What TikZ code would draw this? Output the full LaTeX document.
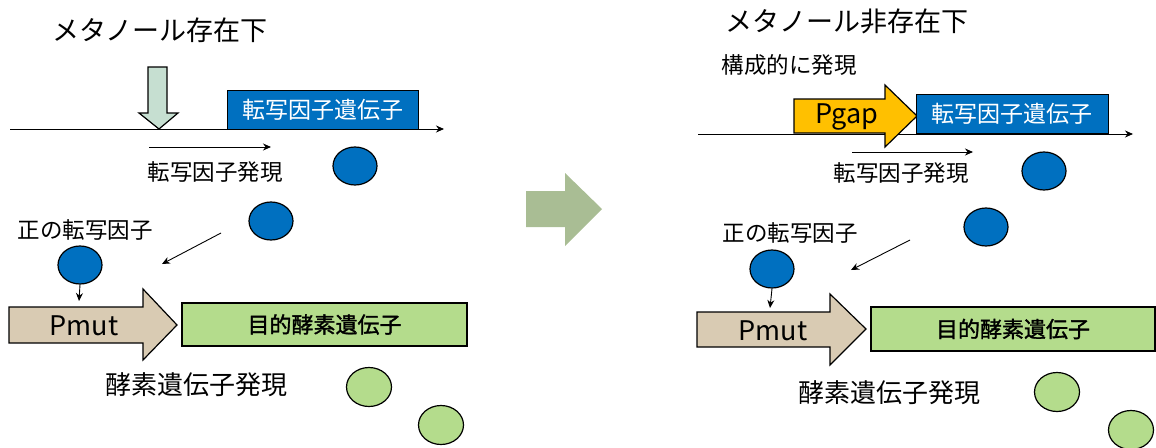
\documentclass[tikz,border=0pt]{standalone}
\usepackage{fontspec}
\setmainfont{Noto Sans CJK JP}
\newfontfamily\semibold[FakeBold=1.5]{Noto Sans CJK JP}
\usetikzlibrary{arrows.meta,shapes.geometric}
\definecolor{tfblue}{HTML}{0070C0}
\definecolor{enzgreen}{HTML}{B4DC8C}
\definecolor{tan}{HTML}{D9CBB3}
\definecolor{mint}{HTML}{C6DFD1}
\definecolor{midgreen}{HTML}{A9BD94}
\definecolor{gold}{HTML}{FFC000}
\tikzset{
  title/.style={inner sep=0pt, font=\fontsize{27}{27}\selectfont},
  lbl/.style={inner sep=0pt, font=\fontsize{22.5}{22.5}\selectfont},
  biglbl/.style={inner sep=0pt, font=\fontsize{26}{26}\selectfont},
  promtext/.style={inner sep=0pt, font=\fontsize{27}{27}\selectfont},
  tfgene/.style={rectangle, draw=black, line width=1pt, fill=tfblue, text=white, inner sep=0pt, font=\fontsize{23}{23}\selectfont},
  enzgene/.style={rectangle, draw=black, line width=1.2pt, fill=enzgreen, inner sep=0pt, font=\semibold\fontsize{22}{22}\selectfont},
  bluedot/.style={ellipse, draw=black, line width=1.2pt, fill=tfblue, minimum width=44pt, minimum height=38pt, inner sep=0pt},
  greendot/.style={ellipse, draw=black, line width=1.2pt, fill=enzgreen, minimum width=45pt, minimum height=39pt, inner sep=0pt},
  conn/.style={line width=0.9pt, -{Stealth[length=8pt,width=7pt]}},
  blockarrow/.style={draw=black, line width=1.2pt, line join=miter}
}
\begin{document}
\begin{tikzpicture}[x=1pt,y=-1pt]
\useasboundingbox (0,0) rectangle (1156,447);
\clip (0,0) rectangle (1156,447);

% ---------------- left panel ----------------
\node[title] (tL) at (160,30) {メタノール存在下};

\coordinate (blL0) at (10,129);
\coordinate (blL1) at (444,129);
\draw[conn] (blL0) -- (blL1);

\draw[blockarrow, fill=mint] (148,67) -- (167,67) -- (167,113) -- (178,113) -- (159,129) -- (139,113) -- (148,113) -- cycle;

\node[tfgene, minimum width=191pt, minimum height=39pt] (tfL) at (322.5,109.5) {転写因子遺伝子};

\coordinate (saL0) at (149,147);
\coordinate (saL1) at (271,147);
\draw[conn] (saL0) -- (saL1);
\node[lbl] (exL) at (215,172) {転写因子発現};

\node[bluedot] (b1L) at (355,166) {};
\node[bluedot] (b2L) at (271,221) {};
\node[lbl] (posL) at (85,230) {正の転写因子};
\node[bluedot] (b3L) at (80,265) {};

\coordinate (dnL) at (79,301);
\draw[conn] (b3L.south) -- (dnL);

\coordinate (dgL0) at (221,233);
\coordinate (dgL1) at (162,264);
\draw[conn] (dgL0) -- (dgL1);

\draw[blockarrow, fill=tan] (9,307) -- (143,307) -- (143,289) -- (177,325) -- (143,360) -- (143,343) -- (9,343) -- cycle;
\node[promtext] (pmL) at (84,326) {Pmut};

\node[enzgene, minimum width=285pt, minimum height=43pt] (egL) at (324.5,324.5) {目的酵素遺伝子};

\node[biglbl] (eexL) at (196,385) {酵素遺伝子発現};
\node[greendot] (g1L) at (369,387) {};
\node[greendot] (g2L) at (441,425) {};

% ---------------- middle arrow ----------------
\fill[midgreen] (526,191) -- (565,191) -- (565,173) -- (602,209) -- (565,246) -- (565,227) -- (526,227) -- cycle;

% ---------------- right panel ----------------
\node[title] (tR) at (847,21) {メタノール非存在下};
\node[lbl] (conR) at (789,65) {構成的に発現};

\coordinate (blR0) at (698,134);
\coordinate (blR1) at (1133,134);
\draw[conn] (blR0) -- (blR1);

\draw[blockarrow, fill=gold] (794,99) -- (885,99) -- (885,85) -- (917,116) -- (885,147) -- (885,133) -- (794,133) -- cycle;
\node[promtext] (pgR) at (847,117) {Pgap};

\node[tfgene, minimum width=192pt, minimum height=39pt] (tfR) at (1012,113.5) {転写因子遺伝子};

\coordinate (saR0) at (852,152);
\coordinate (saR1) at (973,152);
\draw[conn] (saR0) -- (saR1);
\node[lbl] (exR) at (901,173) {転写因子発現};

\node[bluedot] (b1R) at (1044,171) {};
\node[bluedot] (b2R) at (986,227) {};
\node[lbl] (posR) at (790,233) {正の転写因子};
\node[bluedot] (b3R) at (772,269) {};

\coordinate (dnR) at (770,308);
\draw[conn] (b3R.south) -- (dnR);

\coordinate (dgR0) at (910,240);
\coordinate (dgR1) at (851,270);
\draw[conn] (dgR0) -- (dgR1);

\draw[blockarrow, fill=tan] (697,312) -- (830,312) -- (830,294) -- (866,329) -- (830,365) -- (830,347) -- (697,347) -- cycle;
\node[promtext] (pmR) at (773,331) {Pmut};

\node[enzgene, minimum width=284pt, minimum height=44pt] (egR) at (1013,329) {目的酵素遺伝子};

\node[biglbl] (eexR) at (889,393) {酵素遺伝子発現};
\node[greendot] (g1R) at (1057,392) {};
\node[greendot] (g2R) at (1131,430) {};
\end{tikzpicture}
\end{document}
